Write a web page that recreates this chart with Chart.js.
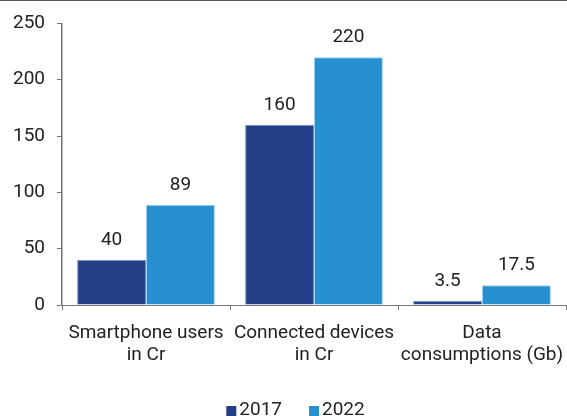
<!DOCTYPE html>
<html>
<head>
<meta charset="utf-8">
<script src="https://cdn.jsdelivr.net/npm/chart.js@4.4.0/dist/chart.umd.min.js"></script>
<style>
    html, body { margin: 0; padding: 0; background: #fff; }
    #wrap { position: relative; width: 567px; height: 416px; }
    #topLine { position: absolute; left: 0; top: 0; width: 567px; height: 1px; background: #555; }
</style>
</head>
<body>
<div id="wrap">
    <canvas id="chart" width="567" height="416"></canvas>
    <div id="topLine"></div>
</div>
<script>
// Chart data
const categories = [
    ['Smartphone users', 'in Cr'],
    ['Connected devices', 'in Cr'],
    ['Data', 'consumptions (Gb)']
];
const values2017 = [40, 160, 3.5];
const values2022 = [89, 220, 17.5];
const yTicks = [0, 50, 100, 150, 200, 250];

const FONT = "Roboto, 'Liberation Sans', Arial, sans-serif";
const TEXT = '#222';

// Value labels above bars
const barLabels = {
    id: 'barLabels',
    afterDatasetsDraw(chart) {
        const ctx = chart.ctx;
        ctx.save();
        ctx.font = '19px ' + FONT;
        ctx.fillStyle = TEXT;
        ctx.textAlign = 'center';
        ctx.textBaseline = 'middle';
        chart.data.datasets.forEach((ds, i) => {
            chart.getDatasetMeta(i).data.forEach((bar, j) => {
                ctx.fillText(String(ds.data[j]), bar.x, bar.y - 20);
            });
        });
        ctx.restore();
    }
};

// Legend at the bottom, squares close to their labels
const bottomLegend = {
    id: 'bottomLegend',
    afterDraw(chart) {
        const ctx = chart.ctx;
        const items = chart.data.datasets;
        const box = 10, gapText = 3, gapItem = 27, y = 410, shift = 12;
        ctx.save();
        ctx.font = '19px ' + FONT;
        ctx.textBaseline = 'middle';
        ctx.textAlign = 'left';
        const widths = items.map(ds => box + gapText + ctx.measureText(ds.label).width);
        const total = widths.reduce((a, b) => a + b, 0) + gapItem * (items.length - 1);
        let x = (chart.width - total) / 2 + shift;
        items.forEach((ds, i) => {
            ctx.fillStyle = ds.backgroundColor;
            ctx.fillRect(x, y - 4, box, box);
            ctx.fillStyle = TEXT;
            ctx.fillText(ds.label, x + box + gapText, y);
            x += widths[i] + gapItem;
        });
        ctx.restore();
    }
};

new Chart(document.getElementById('chart'), {
    type: 'bar',
    data: {
        labels: categories,
        datasets: [
            {
                label: '2017',
                data: values2017,
                backgroundColor: '#243f87',
                borderColor: '#7d92c6',
                borderWidth: 1
            },
            {
                label: '2022',
                data: values2022,
                backgroundColor: '#2690d0',
                borderColor: '#9fd0ee',
                borderWidth: 1
            }
        ]
    },
    options: {
        responsive: false,
        animation: false,
        layout: { padding: { top: 23, right: 1, left: 0, bottom: 41 } },
        categoryPercentage: 0.82,
        barPercentage: 1.0,
        plugins: {
            tooltip: { enabled: false },
            legend: { display: false }
        },
        scales: {
            x: {
                grid: {
                    display: true,
                    drawOnChartArea: false,
                    drawTicks: true,
                    tickLength: 5,
                    color: '#777',
                    offset: true
                },
                border: { display: true, color: '#777', width: 1 },
                ticks: {
                    color: TEXT,
                    padding: 12,
                    maxRotation: 0,
                    font: { family: FONT, size: 19, lineHeight: 1.15 }
                },
                afterFit(scale) {
                    scale.height = 70;
                    scale.paddingLeft = 0;
                    scale.paddingRight = 0;
                }
            },
            y: {
                min: 0,
                max: 250,
                afterBuildTicks(scale) {
                    scale.ticks = yTicks.map(v => ({ value: v }));
                },
                grid: {
                    display: true,
                    drawOnChartArea: false,
                    drawTicks: true,
                    tickLength: 5,
                    color: '#777'
                },
                border: { display: true, color: '#777', width: 1.5 },
                ticks: {
                    color: TEXT,
                    padding: 12,
                    font: { family: FONT, size: 19 }
                },
                afterFit(scale) { scale.width = 62; }
            }
        }
    },
    plugins: [barLabels, bottomLegend]
});
</script>
</body>
</html>
